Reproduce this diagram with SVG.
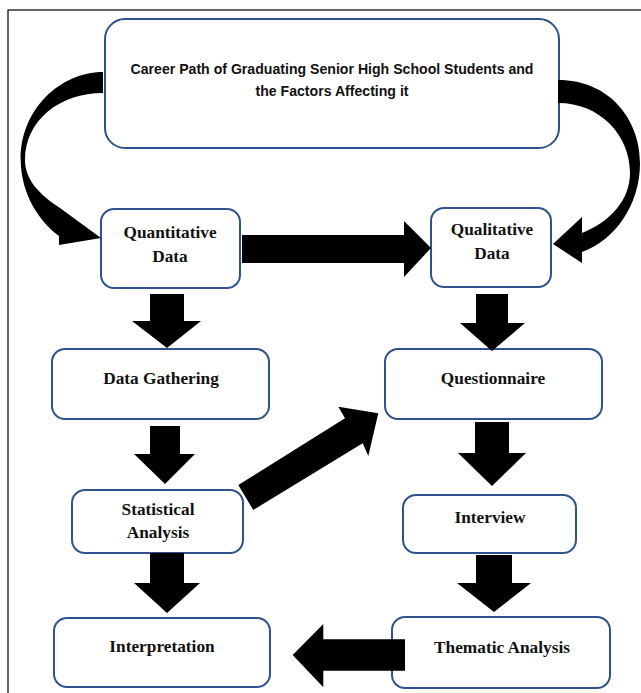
<svg xmlns="http://www.w3.org/2000/svg" width="641" height="693" viewBox="0 0 641 693">
<style>
.box{fill:#fff;stroke:#2F528F;stroke-width:2}
.lbl{font-family:"Liberation Serif","Times New Roman",serif;font-weight:bold;font-size:17.3px;fill:#111;text-anchor:middle}
.ttl{font-family:"Liberation Sans",Arial,sans-serif;font-weight:bold;font-size:15px;fill:#111;text-anchor:middle}
.arr{fill:#000}
</style>
<rect x="0" y="0" width="641" height="693" fill="#fff"/>
<rect x="8" y="10" width="700" height="700" fill="none" stroke="#000" stroke-width="1.2"/>
<g id="n-title"><rect class="box" x="105" y="19" width="454" height="129" rx="20"/>
<text class="ttl" x="332" y="73.5" textLength="403" lengthAdjust="spacingAndGlyphs">Career Path of Graduating Senior High School Students and</text>
<text class="ttl" x="332" y="95.5" textLength="153" lengthAdjust="spacingAndGlyphs">the Factors Affecting it</text></g>
<g id="n-quant"><rect class="box" x="101" y="209" width="139" height="79" rx="13"/>
<text class="lbl" x="170" y="238">Quantitative</text><text class="lbl" x="170" y="262">Data</text></g>
<g id="n-qual"><rect class="box" x="431" y="208" width="120" height="79" rx="13"/>
<text class="lbl" x="492" y="235">Qualitative</text><text class="lbl" x="492" y="259">Data</text></g>
<g id="n-datagathering"><rect class="box" x="52" y="349" width="217" height="70" rx="13"/>
<text class="lbl" x="161" y="384">Data Gathering</text></g>
<g id="n-questionnaire"><rect class="box" x="385" y="349" width="217" height="70" rx="13"/>
<text class="lbl" x="493" y="384">Questionnaire</text></g>
<g id="n-statistical"><rect class="box" x="72" y="490" width="171" height="63" rx="13"/>
<text class="lbl" x="158" y="515">Statistical</text><text class="lbl" x="158" y="538">Analysis</text></g>
<g id="n-interview"><rect class="box" x="403" y="495" width="173" height="58" rx="13"/>
<text class="lbl" x="490" y="523">Interview</text></g>
<g id="n-interpretation"><rect class="box" x="54" y="618" width="216" height="69" rx="13"/>
<text class="lbl" x="162" y="652">Interpretation</text></g>
<g id="n-thematic"><rect class="box" x="392" y="617" width="218" height="71" rx="13"/>
<text class="lbl" x="502" y="653">Thematic Analysis</text></g>
<g id="connectors">
<path class="arr" d="M103,72 C60,72 20,110 20.7,160 C21,195 40,222 59,236 L59,245 L101,238 L60,208 C40,195 25,180 25,160 C25,120 60,93 103,93 Z"/>
<path class="arr" d="M558,80 C610,80 640,120 640,163 C640,205 615,240 582,252 L582,263 L553,244 L582,217 L582,233 C610,222 630,200 630,173 C630,135 600,103 558,103 Z"/>
<polygon class="arr" points="242,235 404,235 404,221 431,248 404,277 404,263 242,263"/>
<polygon class="arr" points="150,294 184,294 184,321 201,321 167,348 132,321 150,321"/>
<polygon class="arr" points="476,294 508,294 508,323 525,323 492,351 460,323 476,323"/>
<polygon class="arr" points="150,426 180,426 180,454 195,454 165,484 134,454 150,454"/>
<polygon class="arr" points="475,422 509,422 509,453 526,453 492,486 458,453 475,453"/>
<polygon class="arr" points="150,553 184,553 184,583 200,583 167,613 134,583 150,583"/>
<polygon class="arr" points="476,555 512,555 512,583 531,583 494,612 457,583 476,583"/>
<polygon class="arr" points="238.3,485 345,418.3 338.3,406.7 378.3,413.3 368.3,456 362.7,443.3 253.3,510"/>
<polygon class="arr" points="405,639.3 323.3,639.3 323.3,624 292.7,655 323.3,687.3 323.3,670.7 405,670.7"/>
</g>
</svg>
